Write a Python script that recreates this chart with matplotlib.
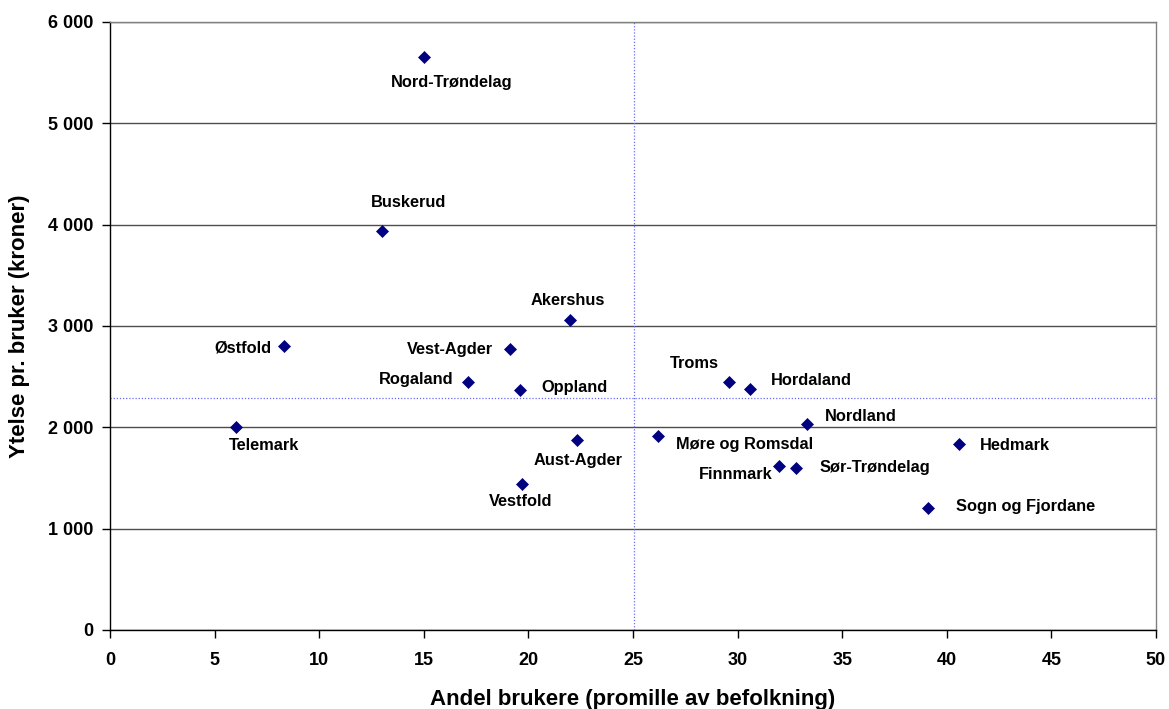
import matplotlib
matplotlib.use("Agg")
import matplotlib.pyplot as plt
from matplotlib.ticker import FuncFormatter, MultipleLocator

plt.rcParams['font.family'] = ['Liberation Sans', 'DejaVu Sans']
plt.rcParams['font.weight'] = 'bold'

# County data: share of users (per mille of population) and benefit per user (NOK)
counties = ["Nord-Trøndelag", "Buskerud", "Akershus", "Østfold", "Vest-Agder",
            "Rogaland", "Oppland", "Telemark", "Aust-Agder", "Vestfold",
            "Møre og Romsdal", "Troms", "Hordaland", "Nordland", "Finnmark",
            "Sør-Trøndelag", "Hedmark", "Sogn og Fjordane"]
andel = [15.0, 13.0, 22.0, 8.3, 19.1, 17.1, 19.6, 6.0, 22.3, 19.7,
         26.2, 29.6, 30.6, 33.3, 32.0, 32.8, 40.6, 39.1]
ytelse = [5655, 3940, 3055, 2800, 2770, 2445, 2365, 2005, 1875, 1445,
          1910, 2445, 2375, 2030, 1620, 1600, 1840, 1200]

# National averages (reference lines)
avg_andel = 25.05
avg_ytelse = 2290

# Label placement: (dx, dy) in pixels relative to the marker (y up), horizontal alignment
label_pos = {
    "Nord-Trøndelag": (28, -26, "center"),
    "Buskerud": (27, 28, "center"),
    "Akershus": (-2, 20, "center"),
    "Østfold": (-12, -2, "right"),
    "Vest-Agder": (-17, 0, "right"),
    "Rogaland": (-14, 3, "right"),
    "Oppland": (21, 3, "left"),
    "Telemark": (29, -19, "center"),
    "Aust-Agder": (2, -20, "center"),
    "Vestfold": (-1, -18, "center"),
    "Møre og Romsdal": (18, -8, "left"),
    "Troms": (-10, 19, "right"),
    "Hordaland": (21, 9, "left"),
    "Nordland": (18, 8, "left"),
    "Finnmark": (-7, -9, "right"),
    "Sør-Trøndelag": (23, 0, "left"),
    "Hedmark": (21, -2, "left"),
    "Sogn og Fjordane": (28, 2, "left"),
}

fig = plt.figure(figsize=(11.69, 7.09), dpi=100)
ax = fig.add_axes([110 / 1169, 1 - 630 / 709, 1046 / 1169, 608 / 709])

ax.set_xlim(0, 50)
ax.set_ylim(0, 6000)
ax.xaxis.set_major_locator(MultipleLocator(5))
ax.yaxis.set_major_locator(MultipleLocator(1000))
ax.yaxis.set_major_formatter(FuncFormatter(lambda v, p: f"{int(v):,}".replace(",", " ")))

ax.grid(axis='y', color='#4d4d4d', linewidth=1.0, zorder=0)
ax.set_axisbelow(True)

ax.axvline(avg_andel, color='#6a6aff', linestyle=(0, (1, 1.5)), linewidth=0.9, zorder=1)
ax.axhline(avg_ytelse, color='#6a6aff', linestyle=(0, (1, 1.5)), linewidth=0.9, zorder=1)

ax.plot(andel, ytelse, linestyle='none', marker='D', markersize=6.2,
        markerfacecolor='#000080', markeredgecolor='#000080', markeredgewidth=0.5, zorder=3)

for name, x, y in zip(counties, andel, ytelse):
    dx, dy, ha = label_pos[name]
    ax.annotate(name, (x, y), xytext=(dx, dy), textcoords='offset pixels',
                ha=ha, va='center', fontsize=11.8, fontweight='bold', color='black')

for side in ['top', 'right']:
    ax.spines[side].set_color('#808080')
    ax.spines[side].set_linewidth(1.0)
for side in ['left', 'bottom']:
    ax.spines[side].set_color('black')
    ax.spines[side].set_linewidth(1.0)

ax.tick_params(axis='both', direction='out', length=6, width=1, labelsize=13)
ax.tick_params(axis='x', pad=10)
ax.tick_params(axis='y', pad=6)
for lbl in ax.get_xticklabels() + ax.get_yticklabels():
    lbl.set_fontweight('bold')

ax.set_xlabel("Andel brukere (promille av befolkning)", fontsize=16, fontweight='bold', labelpad=14)
ax.set_ylabel("Ytelse pr. bruker (kroner)", fontsize=16, fontweight='bold', labelpad=13)

fig.savefig("out.png", dpi=100)
